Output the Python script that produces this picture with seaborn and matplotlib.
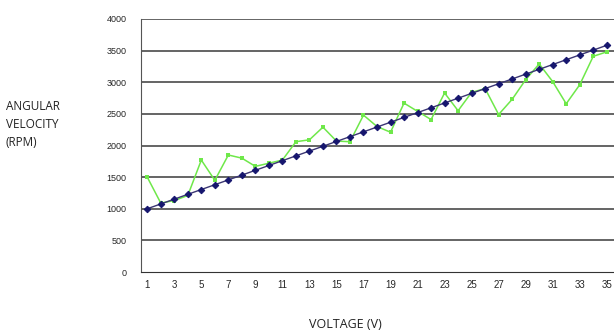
import numpy as np
import pandas as pd
import matplotlib
matplotlib.use("Agg")
import matplotlib.pyplot as plt
import seaborn as sns

# voltage steps (V)
voltage = list(range(1, 36))

# theoretical speed (straight line) and measured speed, RPM
theoretical = [1000, 1076, 1152, 1228, 1304, 1380, 1456, 1532, 1608, 1684,
               1760, 1836, 1912, 1988, 2064, 2140, 2216, 2292, 2368, 2444,
               2520, 2596, 2672, 2748, 2824, 2900, 2976, 3052, 3128, 3204,
               3280, 3356, 3432, 3508, 3584]
measured = [1500, 1090, 1130, 1210, 1770, 1450, 1850, 1800, 1670, 1720,
            1770, 2060, 2090, 2290, 2070, 2060, 2480, 2300, 2210, 2670,
            2540, 2410, 2830, 2550, 2840, 2900, 2490, 2730, 3040, 3290,
            3010, 2660, 2960, 3410, 3480]

y_ticks = [0, 500, 1000, 1500, 2000, 2500, 3000, 3500, 4000]

df = pd.DataFrame({"Voltage": voltage, "Theoretical": theoretical, "Measured": measured})

sns.set_style("white")
plt.rcParams['font.family'] = ['Liberation Sans', 'DejaVu Sans']

fig = plt.figure(figsize=(6.14, 3.33), dpi=100)
ax = fig.add_axes([140.5 / 614, 1 - 272 / 333, 473 / 614, 253 / 333])

for y in y_ticks[1:]:
    ax.axhline(y, color='#3a3a3a', lw=1.1, zorder=1)

sns.lineplot(data=df, x="Voltage", y="Measured", ax=ax, color='#6fe84a', lw=1.1,
             marker='s', markersize=3, markeredgewidth=0, zorder=3)
sns.lineplot(data=df, x="Voltage", y="Theoretical", ax=ax, color='#3b3673', lw=1.0,
             marker='D', markersize=3.3, markerfacecolor='#16166e',
             markeredgecolor='#16166e', zorder=4)

ax.set_xlim(0.5, 35.5)
ax.set_ylim(0, 4000)
ax.set_yticks(y_ticks)
ax.set_yticklabels([str(v) for v in y_ticks], fontsize=6.5)
ax.set_xticks(voltage[::2])
ax.set_xticklabels([str(v) for v in voltage[::2]], fontsize=7)
ax.set_xticks(np.arange(1.5, 35.5, 1), minor=True)
ax.tick_params(axis='x', which='major', length=0, pad=6)
ax.tick_params(axis='x', which='minor', length=4, width=0.8, color='#333333', direction='inout')
ax.tick_params(axis='y', length=4, width=0.8, color='#333333', direction='out', pad=6)

for s in ['top', 'right']:
    ax.spines[s].set_visible(False)
ax.spines['left'].set_color('#555555')
ax.spines['bottom'].set_color('#333333')
ax.spines['left'].set_linewidth(0.8)
ax.spines['bottom'].set_linewidth(0.8)

ax.set_xlabel("")
ax.set_ylabel("")
fig.text(345 / 614, 1 - 324 / 333, "VOLTAGE (V)", ha='center', va='center',
         fontsize=9, family=['Open Sans', 'DejaVu Sans'], color='#222222')
fig.text(6 / 614, 1 - 124 / 333, "ANGULAR\nVELOCITY\n(RPM)", ha='left', va='center',
         fontsize=8.5, family=['Open Sans', 'DejaVu Sans'], color='#222222', linespacing=1.5)

fig.savefig("out.png", dpi=100)
